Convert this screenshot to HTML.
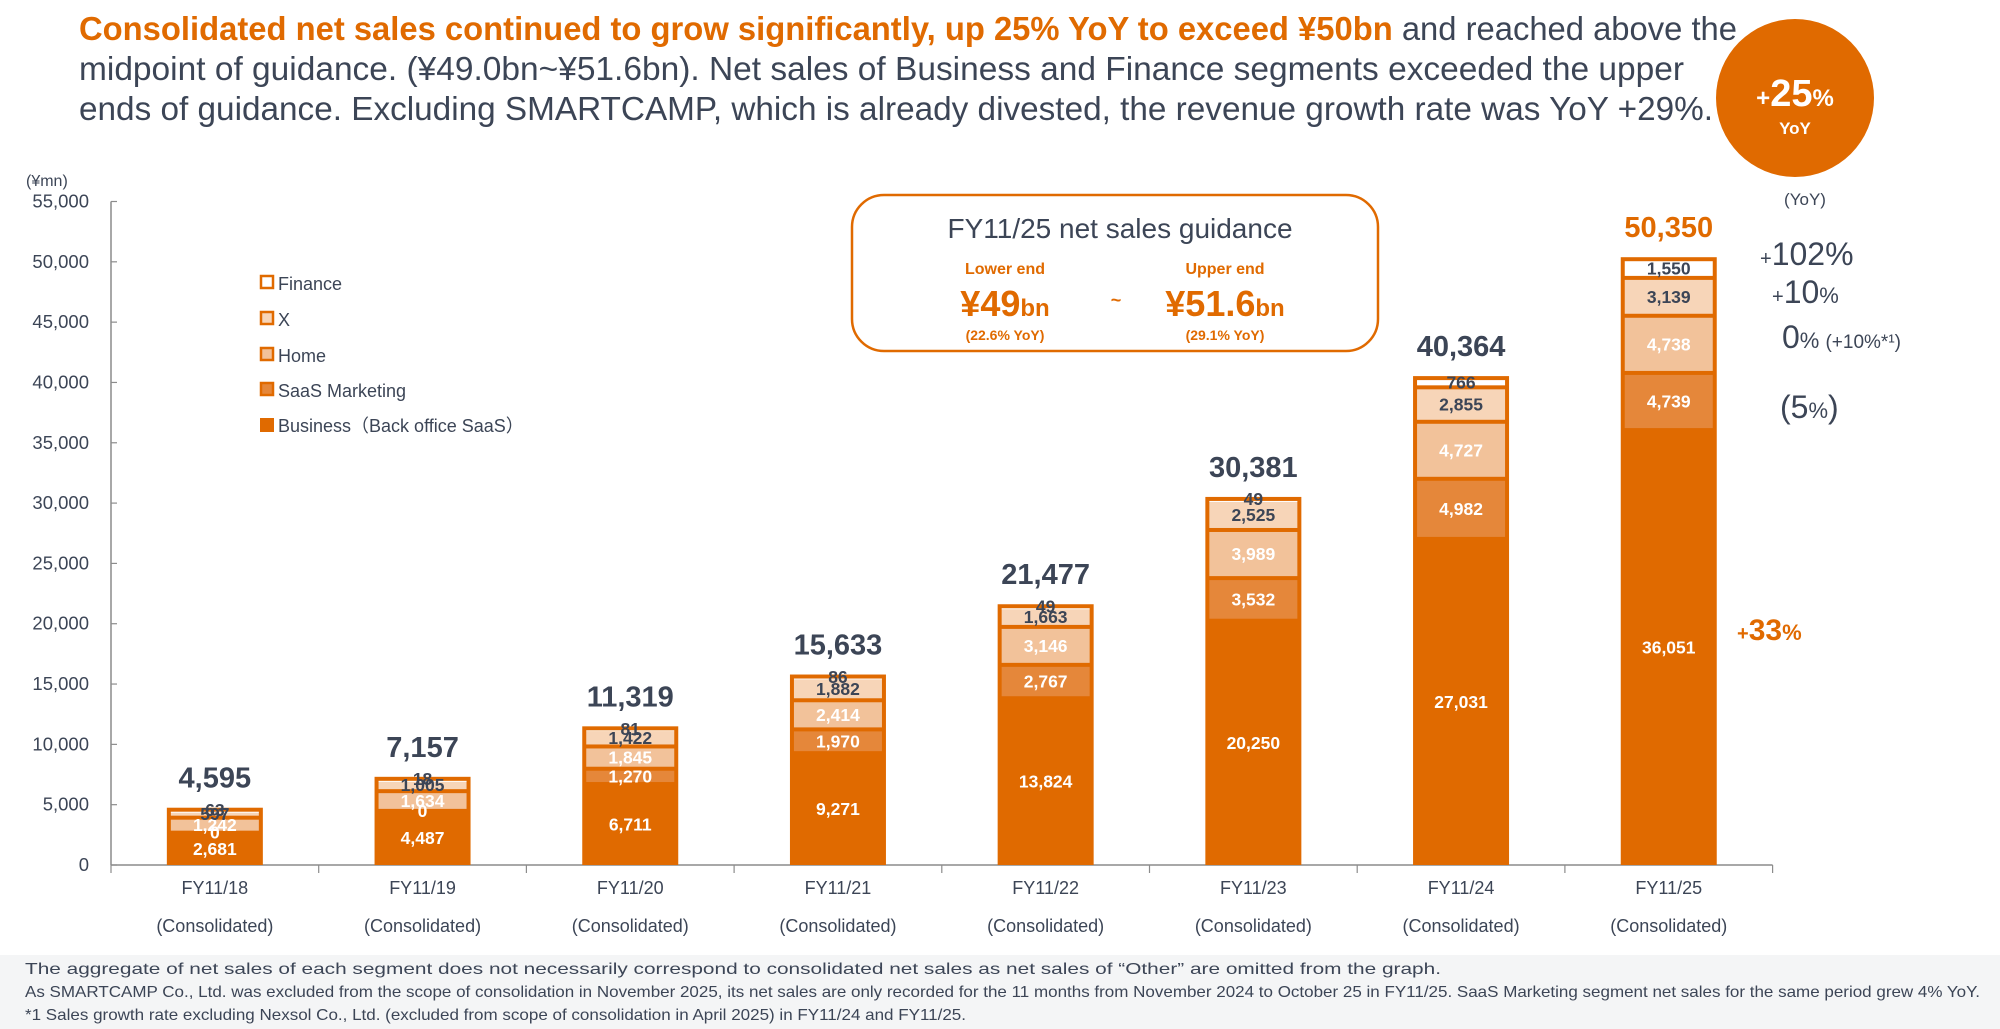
<!DOCTYPE html>
<html><head><meta charset="utf-8"><style>
html,body{margin:0;padding:0;background:#fff;}
svg{display:block;font-family:"Liberation Sans","Noto Sans CJK JP",sans-serif;}
</style></head><body>
<svg id="c" width="2000" height="1029" viewBox="0 0 2000 1029">
<g font-size="33" fill="#3C4556">
<text x="79" y="40" textLength="1658" lengthAdjust="spacingAndGlyphs"><tspan fill="#E06A00" font-weight="bold">Consolidated net sales continued to grow significantly, up 25% YoY to exceed ¥50bn</tspan> and reached above the</text>
<text x="79" y="80" textLength="1605" lengthAdjust="spacingAndGlyphs">midpoint of guidance. (¥49.0bn~¥51.6bn). Net sales of Business and Finance segments exceeded the upper</text>
<text x="79" y="120" textLength="1634" lengthAdjust="spacingAndGlyphs">ends of guidance. Excluding SMARTCAMP, which is already divested, the revenue growth rate was YoY +29%.</text>
</g>
<g>
<circle cx="1795" cy="98" r="79" fill="#E06A00"/>
<text x="1795" y="106" text-anchor="middle" fill="#fff" font-weight="bold" font-size="38"><tspan font-size="24">+</tspan>25<tspan font-size="24">%</tspan></text>
<text x="1795" y="134" text-anchor="middle" fill="#fff" font-weight="bold" font-size="17">YoY</text>
</g>
<g>
<rect x="852" y="195" width="526" height="156" rx="32" fill="#fff" stroke="#E06A00" stroke-width="2.5"/>
<text x="1120" y="238" text-anchor="middle" fill="#3C4556" font-size="28">FY11/25 net sales guidance</text>
<text x="1005" y="274" text-anchor="middle" fill="#E06A00" font-weight="bold" font-size="16">Lower end</text>
<text x="1225" y="274" text-anchor="middle" fill="#E06A00" font-weight="bold" font-size="16">Upper end</text>
<text x="1005" y="316" text-anchor="middle" fill="#E06A00" font-weight="bold" font-size="36">¥49<tspan font-size="24">bn</tspan></text>
<text x="1116" y="306" text-anchor="middle" fill="#E06A00" font-weight="bold" font-size="18">~</text>
<text x="1225" y="316" text-anchor="middle" fill="#E06A00" font-weight="bold" font-size="36">¥51.6<tspan font-size="24">bn</tspan></text>
<text x="1005" y="340" text-anchor="middle" fill="#E06A00" font-weight="bold" font-size="14">(22.6% YoY)</text>
<text x="1225" y="340" text-anchor="middle" fill="#E06A00" font-weight="bold" font-size="14">(29.1% YoY)</text>
</g>
<g fill="#3C4556">
<text x="1805" y="205" text-anchor="middle" font-size="17">(YoY)</text>
<text x="1760" y="265" font-size="32"><tspan font-size="20">+</tspan>102%</text>
<text x="1772" y="303" font-size="32"><tspan font-size="20">+</tspan>10<tspan font-size="22">%</tspan></text>
<text x="1782" y="348" font-size="32">0<tspan font-size="22">% </tspan><tspan font-size="19">(+10%*¹)</tspan></text>
<text x="1780" y="418" font-size="32">(5<tspan font-size="22">%</tspan>)</text>
<text x="1737" y="640" font-size="30" fill="#E06A00" font-weight="bold"><tspan font-size="20">+</tspan>33<tspan font-size="22">%</tspan></text>
</g>
<g id="axes"></g>
<g id="bars"></g>
<g font-size="18" fill="#3C4556">
<rect x="261" y="276" width="12" height="12" fill="#fff" stroke="#E06A00" stroke-width="2.5"/><text x="278" y="290">Finance</text>
<rect x="261" y="312" width="12" height="12" fill="#F7D5B8" stroke="#E06A00" stroke-width="2.5"/><text x="278" y="326">X</text>
<rect x="261" y="348" width="12" height="12" fill="#F2C29A" stroke="#E06A00" stroke-width="2.5"/><text x="278" y="362">Home</text>
<rect x="261" y="383" width="12" height="12" fill="#E5873A" stroke="#E06A00" stroke-width="2.5"/><text x="278" y="397">SaaS Marketing</text>
<rect x="260" y="418" width="14" height="14" fill="#E06A00"/><text x="278" y="432">Business（Back office SaaS）</text>
</g>
<g>
<rect x="0" y="955" width="2000" height="74" fill="#F4F5F6"/>
<text x="25" y="974" font-size="16" fill="#3C4556" textLength="1416" lengthAdjust="spacingAndGlyphs">The aggregate of net sales of each segment does not necessarily correspond to consolidated net sales as net sales of “Other” are omitted from the graph.</text>
<text x="25" y="997" font-size="16" fill="#3C4556" textLength="1955" lengthAdjust="spacingAndGlyphs">As SMARTCAMP Co., Ltd. was excluded from the scope of consolidation in November 2025, its net sales are only recorded for the 11 months from November 2024 to October 25 in FY11/25. SaaS Marketing segment net sales for the same period grew 4% YoY.</text>
<text x="25" y="1020" font-size="16" fill="#3C4556" textLength="941" lengthAdjust="spacingAndGlyphs">*1 Sales growth rate excluding Nexsol Co., Ltd. (excluded from scope of consolidation in April 2025) in FY11/24 and FY11/25.</text>
</g>
</svg>
<script>
const categories = ["FY11/18","FY11/19","FY11/20","FY11/21","FY11/22","FY11/23","FY11/24","FY11/25"];
const totals = [4595,7157,11319,15633,21477,30381,40364,50350];
const business = [2681,4487,6711,9271,13824,20250,27031,36051];
const saasMarketing = [0,0,1270,1970,2767,3532,4982,4739];
const home = [1242,1634,1845,2414,3146,3989,4727,4738];
const xSeg = [597,1005,1422,1882,1663,2525,2855,3139];
const finance = [63,18,81,86,49,49,766,1550];
const yTicks = [0,5000,10000,15000,20000,25000,30000,35000,40000,45000,50000,55000];

const NS = "http://www.w3.org/2000/svg";
const X0 = 111, BAND = 207.7, Y0 = 865, YMAX = 55000, YTOP = 201.5, BW = 96;
const yScale = v => Y0 - (v / YMAX) * (Y0 - YTOP);
const xCenter = i => X0 + BAND * (i + 0.5);
const fmt = v => v.toLocaleString("en-US");
function mk(tag, attrs, parent, txt){
  const e = document.createElementNS(NS, tag);
  for (const k in attrs) e.setAttribute(k, attrs[k]);
  if (txt !== undefined) e.textContent = txt;
  parent.appendChild(e); return e;
}
const axes = document.getElementById("axes");
const bars = document.getElementById("bars");
let a = mk("line",{x1:X0,y1:YTOP,x2:X0,y2:Y0,stroke:"#8C8C8C","stroke-width":1.5},axes);


a = mk("line",{x1:X0,y1:Y0,x2:X0+BAND*categories.length,y2:Y0,stroke:"#8C8C8C","stroke-width":1.5},axes);


let u = mk("text",{x:26,y:186,"font-size":16,fill:"#3C4556"},axes,"(¥mn)");


yTicks.forEach(t=>{
  const y = yScale(t);
  mk("line",{x1:X0,y1:y,x2:X0+6,y2:y,stroke:"#8C8C8C","stroke-width":1.2},axes);
  const tl = mk("text",{x:89,y:y+6,"text-anchor":"end","font-size":18.5,fill:"#3C4556"},axes,fmt(t));
  
  
});
for (let i=0;i<=categories.length;i++){
  const x = X0+BAND*i;
  mk("line",{x1:x,y1:Y0,x2:x,y2:Y0+8,stroke:"#8C8C8C","stroke-width":1.2},axes);
}
const segs = [
  {d:business, fill:"#E06A00", tc:"#fff", inset:false, name:"business"},
  {d:saasMarketing, fill:"#E5873A", tc:"#fff", inset:true, name:"saas-marketing"},
  {d:home, fill:"#F2C29A", tc:"#fff", inset:true, name:"home"},
  {d:xSeg, fill:"#F7D5B8", tc:"#3C4556", inset:true, name:"x"},
  {d:finance, fill:"#FFFFFF", tc:"#3C4556", inset:true, name:"finance"}
];
categories.forEach((c,i)=>{
  const cx = xCenter(i), x = cx-BW/2;
  let sum = 0; segs.forEach(s=>sum+=s.d[i]);
  const g = mk("g",{},bars);
  
  
  const top = yScale(sum);
  mk("rect",{x:x,y:top-2,width:BW,height:Y0-top+2,fill:"#E06A00"},g);
  let base = 0;
  const labels = [];
  segs.forEach(s=>{
    const v = s.d[i];
    const y1 = yScale(base), y2 = yScale(base+v);
    if (s.inset && v>0){
      const h = Math.max(y1-y2-4,1);
      const r = mk("rect",{x:x+4,y:y2+2,width:BW-8,height:h,fill:s.fill},g);
      
      
    }
    labels.push({v:v,y:(y1+y2)/2,tc:s.tc});
    base += v;
  });
  labels.forEach(l=>{
    const t = mk("text",{x:cx,y:l.y+6,"text-anchor":"middle","font-size":17.5,"font-weight":"bold",fill:l.tc},g,fmt(l.v));
    
    
  });
  const last = i===categories.length-1;
  const tt = mk("text",{x:cx,y:top-22,"text-anchor":"middle","font-size":29,"font-weight":"bold",fill:last?"#E06A00":"#3C4556"},g,fmt(totals[i]));
  
  
  const l1 = mk("text",{x:cx,y:894,"text-anchor":"middle","font-size":18,fill:"#3C4556"},axes,c);
  
  
  const l2 = mk("text",{x:cx,y:932,"text-anchor":"middle","font-size":18,fill:"#3C4556"},axes,"(Consolidated)");
  
  
});
</script>
</body></html>
